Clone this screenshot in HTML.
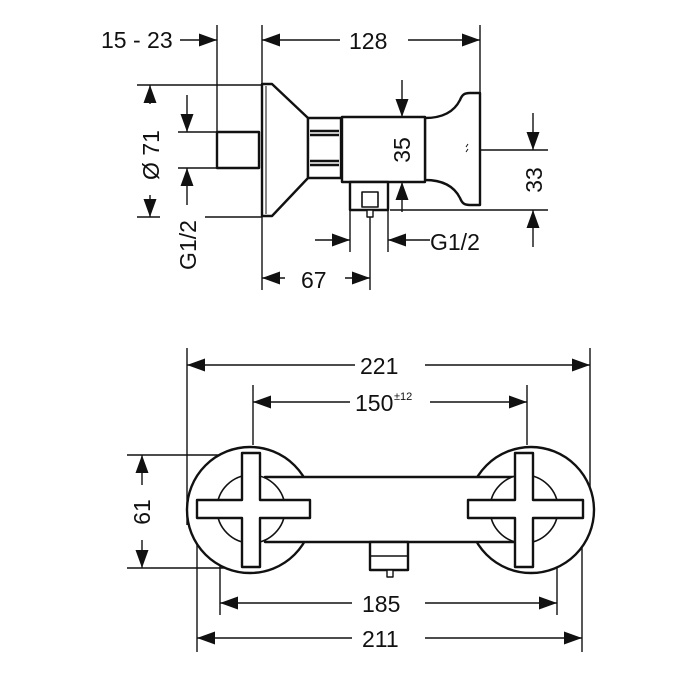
<!DOCTYPE html>
<html><head><meta charset="utf-8"><style>
html,body{margin:0;padding:0;background:#fff;width:700px;height:700px;overflow:hidden}
text{font-family:"Liberation Sans",sans-serif;font-size:23px;fill:#111}
</style></head><body>
<svg width="700" height="700" viewBox="0 0 700 700" xmlns="http://www.w3.org/2000/svg">
<defs>
<marker id="a" markerUnits="userSpaceOnUse" markerWidth="19" markerHeight="14" refX="18" refY="7" orient="auto">
<path d="M0,0.5 L18,7 L0,13.5 z" fill="#111"/></marker>
</defs>
<g stroke="#111" stroke-width="1.4" fill="none">
<line x1="217" y1="25" x2="217" y2="132"/>
<line x1="262" y1="25" x2="262" y2="290"/>
<line x1="480" y1="25" x2="480" y2="93"/>
<line x1="137" y1="85" x2="262" y2="85"/>
<line x1="137" y1="217" x2="160" y2="217"/><line x1="205" y1="217" x2="262" y2="217"/>
<line x1="178" y1="132" x2="217" y2="132"/>
<line x1="178" y1="168" x2="217" y2="168"/>
<line x1="415" y1="150" x2="548" y2="150"/>
<line x1="390" y1="210" x2="548" y2="210"/>
<line x1="350" y1="210" x2="350" y2="252"/>
<line x1="370" y1="215" x2="370" y2="290"/>
<line x1="388" y1="210" x2="388" y2="252"/>
<line x1="180" y1="40" x2="217" y2="40" marker-end="url(#a)"/>
<line x1="340" y1="40" x2="262" y2="40" marker-end="url(#a)"/>
<line x1="408" y1="40" x2="480" y2="40" marker-end="url(#a)"/>
<line x1="150" y1="104" x2="150" y2="85" marker-end="url(#a)"/>
<line x1="150" y1="195" x2="150" y2="217" marker-end="url(#a)"/>
<line x1="187" y1="95" x2="187" y2="132" marker-end="url(#a)"/>
<line x1="187" y1="205" x2="187" y2="168" marker-end="url(#a)"/>
<line x1="402" y1="80" x2="402" y2="117" marker-end="url(#a)"/>
<line x1="402" y1="212" x2="402" y2="182" marker-end="url(#a)"/>
<line x1="533" y1="113" x2="533" y2="150" marker-end="url(#a)"/>
<line x1="533" y1="247" x2="533" y2="210" marker-end="url(#a)"/>
<line x1="315" y1="240" x2="350" y2="240" marker-end="url(#a)"/>
<line x1="430" y1="240" x2="388" y2="240" marker-end="url(#a)"/>
<line x1="285" y1="278" x2="262" y2="278" marker-end="url(#a)"/>
<line x1="345" y1="278" x2="370" y2="278" marker-end="url(#a)"/>
</g>
<g stroke="#111" stroke-width="2.4" fill="#fff" stroke-linejoin="round">
<rect x="217" y="132" width="42" height="36"/>
<path d="M262,84 L272,84 L308,118 L308,178 L272,216 L262,216 Z"/>
<line x1="266" y1="86" x2="266" y2="214" stroke-width="1"/>
<rect x="308" y="118" width="33" height="60"/>
<line x1="310" y1="131" x2="339" y2="131"/><line x1="310" y1="135" x2="339" y2="135"/>
<line x1="310" y1="161" x2="339" y2="161"/><line x1="310" y1="165" x2="339" y2="165"/>
<path d="M425,118 C445,118 455,110 460,100 C462,95 464,93 470,93 L480,93 L480,205 L470,205 C464,205 462,203 460,198 C455,188 445,180 425,180 Z"/>
<rect x="342" y="117" width="83" height="65"/>
<rect x="350" y="182" width="38" height="28"/>
<rect x="362" y="192" width="16" height="15" stroke-width="1.6"/>
<rect x="367" y="210" width="6" height="7" stroke-width="1.4"/>
</g>
<path d="M466,147 l2,-3 M466,152 l2,-3" stroke="#111" stroke-width="1"/>
<text x="101" y="48">15 - 23</text>
<text x="349" y="49">128</text>
<text x="430" y="250">G1/2</text>
<text x="301" y="288">67</text>
<text transform="translate(159,155) rotate(-90)" text-anchor="middle">Ø 71</text>
<text transform="translate(196,245) rotate(-90)" text-anchor="middle">G1/2</text>
<text transform="translate(410,150) rotate(-90)" text-anchor="middle">35</text>
<text transform="translate(542,180) rotate(-90)" text-anchor="middle">33</text>

<g stroke="#111" stroke-width="1.4" fill="none">
<line x1="187" y1="348" x2="187" y2="525"/>
<line x1="590" y1="348" x2="590" y2="525"/>
<line x1="253" y1="385" x2="253" y2="445"/>
<line x1="527" y1="385" x2="527" y2="445"/>
<line x1="127" y1="455" x2="245" y2="455"/>
<line x1="127" y1="568" x2="245" y2="568"/>
<line x1="220" y1="520" x2="220" y2="615"/>
<line x1="557" y1="520" x2="557" y2="615"/>
<line x1="197" y1="540" x2="197" y2="652"/>
<line x1="582" y1="540" x2="582" y2="652"/>
<line x1="355" y1="365" x2="187" y2="365" marker-end="url(#a)"/>
<line x1="425" y1="365" x2="590" y2="365" marker-end="url(#a)"/>
<line x1="350" y1="402" x2="253" y2="402" marker-end="url(#a)"/>
<line x1="430" y1="402" x2="527" y2="402" marker-end="url(#a)"/>
<line x1="142" y1="485" x2="142" y2="455" marker-end="url(#a)"/>
<line x1="142" y1="540" x2="142" y2="568" marker-end="url(#a)"/>
<line x1="352" y1="603" x2="220" y2="603" marker-end="url(#a)"/>
<line x1="425" y1="603" x2="557" y2="603" marker-end="url(#a)"/>
<line x1="352" y1="638" x2="197" y2="638" marker-end="url(#a)"/>
<line x1="425" y1="638" x2="582" y2="638" marker-end="url(#a)"/>
</g>
<g stroke="#111" stroke-width="2.4" fill="#fff" stroke-linejoin="round">
<circle cx="250" cy="510" r="63"/>
<circle cx="531" cy="510" r="63"/>
<rect x="265" y="477" width="250" height="65"/>
<rect x="370" y="542" width="38" height="28"/>
<line x1="370" y1="556" x2="408" y2="556" stroke-width="1.4"/>
<rect x="387" y="570" width="6" height="7" stroke-width="1.4"/>
<circle cx="251" cy="509" r="34" stroke-width="1.6"/>
<circle cx="524" cy="509" r="34" stroke-width="1.6"/>
<path d="M242,453 L260,453 L260,500 L310,500 L310,518 L260,518 L260,567 L242,567 L242,518 L197,518 L197,500 L242,500 Z"/>
<path d="M515,453 L533,453 L533,500 L583,500 L583,518 L533,518 L533,567 L515,567 L515,518 L468,518 L468,500 L515,500 Z"/>
</g>
<text x="360" y="374">221</text>
<text x="355" y="411">150</text><text x="394" y="400" style="font-size:11px">±12</text>
<text x="362" y="612">185</text>
<text x="362" y="647">211</text>
<text transform="translate(150,512) rotate(-90)" text-anchor="middle">61</text>
</svg>
</body></html>
